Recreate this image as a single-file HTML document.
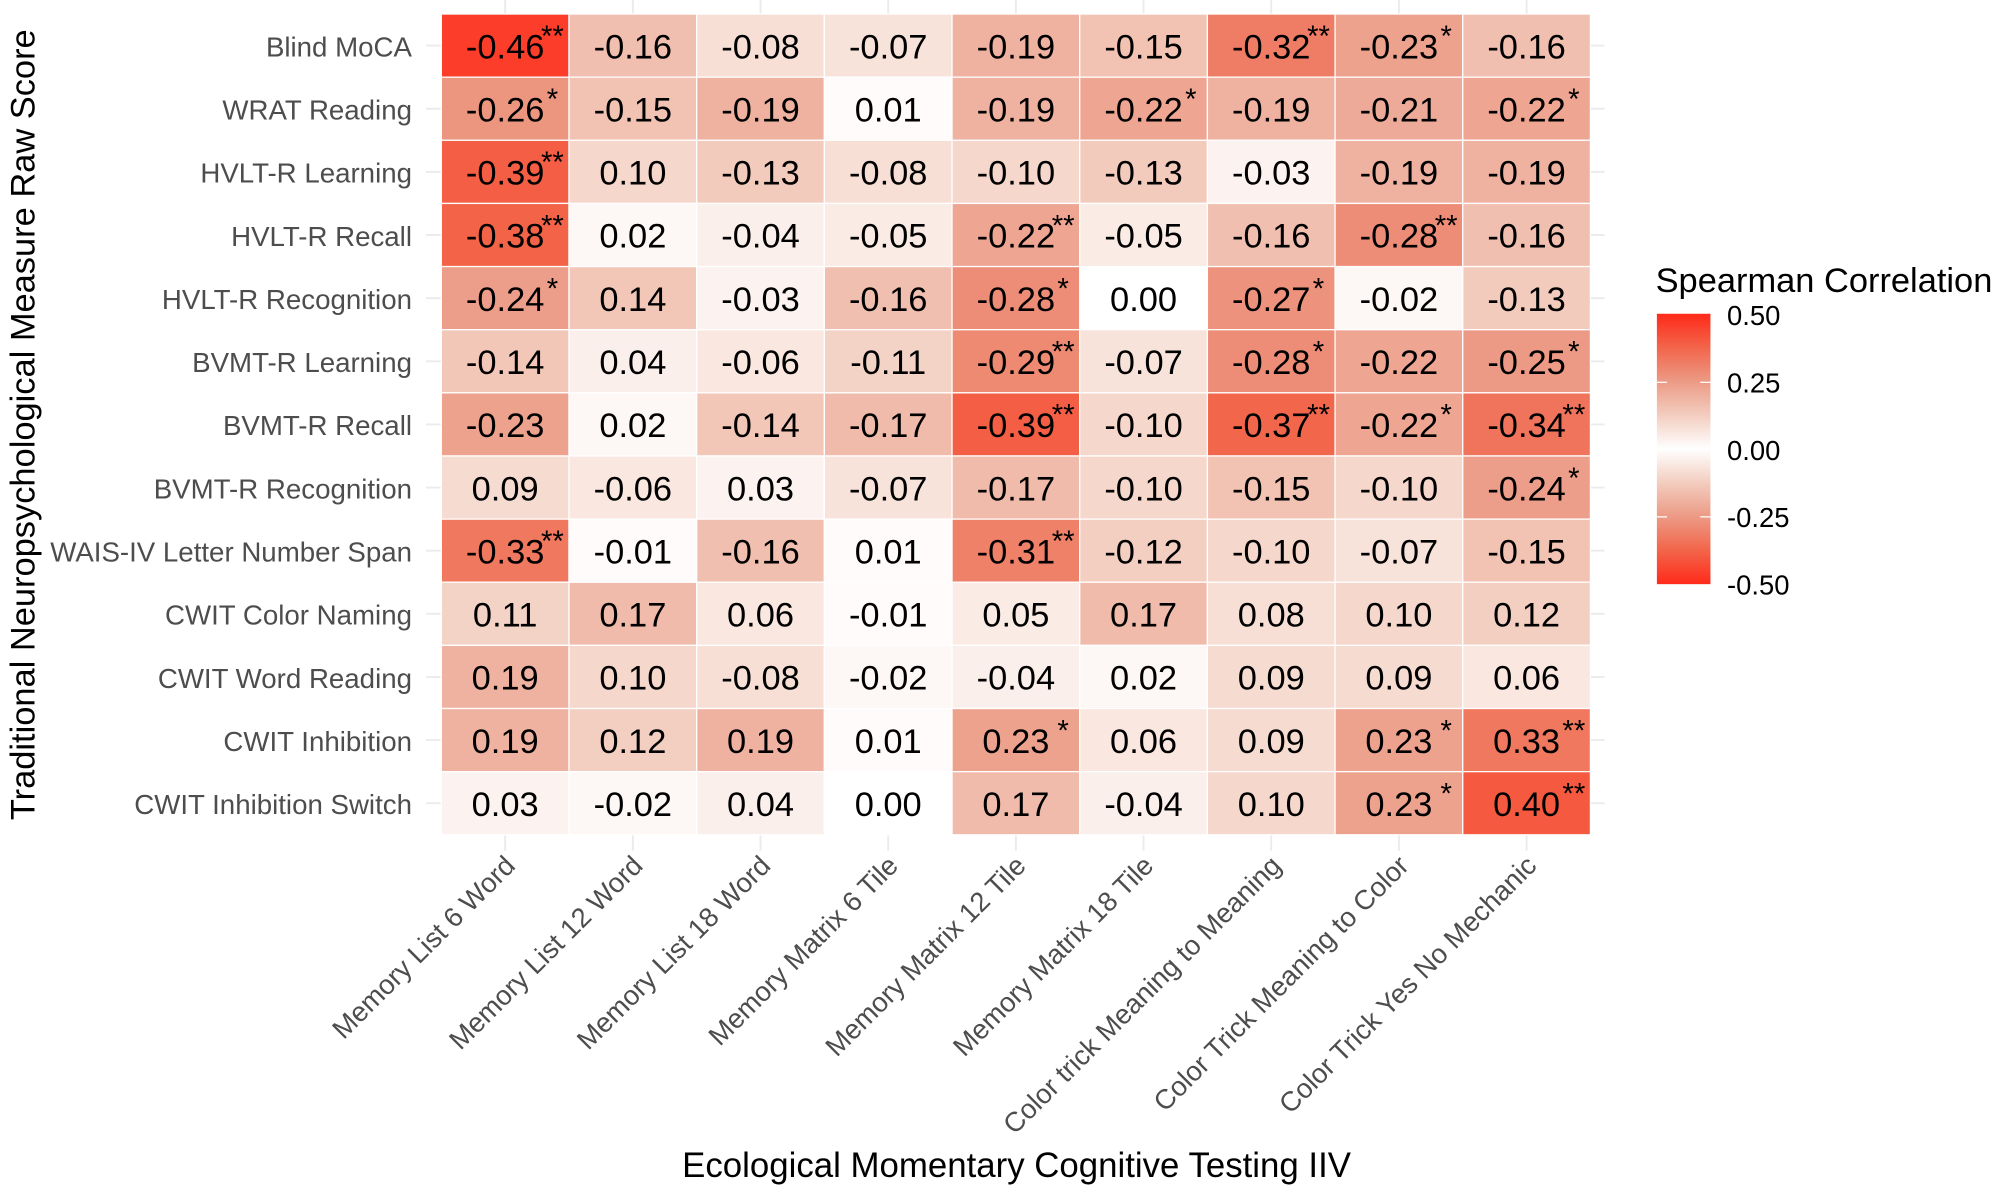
<!DOCTYPE html>
<html><head><meta charset="utf-8">
<style>html,body{margin:0;padding:0;background:#fff;}svg{display:block;}</style>
</head><body>
<svg id="s" xmlns="http://www.w3.org/2000/svg" width="2000" height="1190" viewBox="0 0 1568 933" preserveAspectRatio="none" font-family="Liberation Sans, Arial, sans-serif">
<defs>
<linearGradient id="lg" x1="0" y1="0" x2="0" y2="1">
<stop offset="0" stop-color="#FF2A1A"/>
<stop offset="0.125" stop-color="#F2654A"/>
<stop offset="0.25" stop-color="#EC9A85"/>
<stop offset="0.375" stop-color="#F3CDBF"/>
<stop offset="0.5" stop-color="#FFFFFF"/>
<stop offset="0.625" stop-color="#F3CDBF"/>
<stop offset="0.75" stop-color="#EC9A85"/>
<stop offset="0.875" stop-color="#F2654A"/>
<stop offset="1" stop-color="#FF2A1A"/>
</linearGradient>
</defs>
<g id="g"></g>
</svg>
<script>
var rows=["Blind MoCA","WRAT Reading","HVLT-R Learning","HVLT-R Recall","HVLT-R Recognition","BVMT-R Learning","BVMT-R Recall","BVMT-R Recognition","WAIS-IV Letter Number Span","CWIT Color Naming","CWIT Word Reading","CWIT Inhibition","CWIT Inhibition Switch"];
var cols=["Memory List 6 Word","Memory List 12 Word","Memory List 18 Word","Memory Matrix 6 Tile","Memory Matrix 12 Tile","Memory Matrix 18 Tile","Color trick Meaning to Meaning","Color Trick Meaning to Color","Color Trick Yes No Mechanic"];
var d=[
"-0.46** -0.16 -0.08 -0.07 -0.19 -0.15 -0.32** -0.23* -0.16",
"-0.26* -0.15 -0.19 0.01 -0.19 -0.22* -0.19 -0.21 -0.22*",
"-0.39** 0.10 -0.13 -0.08 -0.10 -0.13 -0.03 -0.19 -0.19",
"-0.38** 0.02 -0.04 -0.05 -0.22** -0.05 -0.16 -0.28** -0.16",
"-0.24* 0.14 -0.03 -0.16 -0.28* 0.00 -0.27* -0.02 -0.13",
"-0.14 0.04 -0.06 -0.11 -0.29** -0.07 -0.28* -0.22 -0.25*",
"-0.23 0.02 -0.14 -0.17 -0.39** -0.10 -0.37** -0.22* -0.34**",
"0.09 -0.06 0.03 -0.07 -0.17 -0.10 -0.15 -0.10 -0.24*",
"-0.33** -0.01 -0.16 0.01 -0.31** -0.12 -0.10 -0.07 -0.15",
"0.11 0.17 0.06 -0.01 0.05 0.17 0.08 0.10 0.12",
"0.19 0.10 -0.08 -0.02 -0.04 0.02 0.09 0.09 0.06",
"0.19 0.12 0.19 0.01 0.23* 0.06 0.09 0.23* 0.33**",
"0.03 -0.02 0.04 0.00 0.17 -0.04 0.10 0.23* 0.40**"];
var stops=[[0,[255,255,255]],[0.125,[243,205,191]],[0.25,[236,154,133]],[0.375,[242,101,74]],[0.5,[255,42,26]]];
function col(v){v=Math.min(0.5,Math.abs(v));for(var i=1;i<stops.length;i++){if(v<=stops[i][0]){var a=stops[i-1],b=stops[i],t=(v-a[0])/(b[0]-a[0]);var c=a[1].map(function(x,k){return Math.round(x+(b[1][k]-x)*t)});return "rgb("+c.join(",")+")";}}return "rgb(255,42,26)";}
var x0=346,y0=11,cw=100.1,rh=49.5,s="";
for(var j=0;j<9;j++){var xc=x0+cw*(j+0.5);s+='<line x1="'+xc+'" y1="0" x2="'+xc+'" y2="667" stroke="#EBEBEB" stroke-width="1.5"/>';}
for(var i=0;i<13;i++){var yc=y0+rh*(i+0.5);s+='<line x1="334" y1="'+yc+'" x2="1258" y2="'+yc+'" stroke="#EBEBEB" stroke-width="1.5"/>';}
for(var i=0;i<13;i++){var vals=d[i].split(" ");var yc=y0+rh*(i+0.5);
 for(var j=0;j<9;j++){var raw=vals[j];var st=raw.replace(/[^*]/g,"");var num=raw.replace(/\*/g,"");var v=parseFloat(num);
  var x=x0+cw*j,y=y0+rh*i;
  s+='<rect x="'+x+'" y="'+y+'" width="'+cw+'" height="'+rh+'" fill="'+col(v)+'" stroke="#fff" stroke-width="1"/>';
  s+='<text x="'+(x+cw/2)+'" y="'+(yc+10)+'" font-size="27" text-anchor="middle" fill="#000">'+num+'</text>';
  if(st)s+='<text x="'+(x+cw-13)+'" y="'+(y+25)+'" font-size="23" text-anchor="middle" fill="#000">'+st+'</text>';
 }
 s+='<text x="323" y="'+(yc+8.5)+'" font-size="21.7" text-anchor="end" fill="#4D4D4D">'+rows[i]+'</text>';
}
for(var j=0;j<9;j++){var xc=x0+cw*(j+0.5)+9;s+='<text transform="translate('+xc+',680) rotate(-45)" font-size="21.5" text-anchor="end" fill="#4D4D4D">'+cols[j]+'</text>';}
s+='<text x="797" y="923" font-size="27.3" text-anchor="middle" fill="#000">Ecological Momentary Cognitive Testing IIV</text>';
s+='<text transform="translate(27,333) rotate(-90)" font-size="27" text-anchor="middle" fill="#000">Traditional Neuropsychological Measure Raw Score</text>';
s+='<text x="1298" y="229" font-size="27" fill="#000">Spearman Correlation</text>';
s+='<rect x="1299" y="246" width="42" height="212" fill="url(#lg)"/>';
var lt=["0.50","0.25","0.00","-0.25","-0.50"];
for(var k=0;k<5;k++){var yy=247+k*52.75;if(k>0&&k<4){s+='<line x1="1299" y1="'+yy+'" x2="1307" y2="'+yy+'" stroke="#fff" stroke-width="1"/><line x1="1333" y1="'+yy+'" x2="1341" y2="'+yy+'" stroke="#fff" stroke-width="1"/>';}
 s+='<text x="1354" y="'+(yy+8)+'" font-size="21.5" fill="#000">'+lt[k]+'</text>';}
document.getElementById("g").innerHTML=s;
</script>
</body></html>
